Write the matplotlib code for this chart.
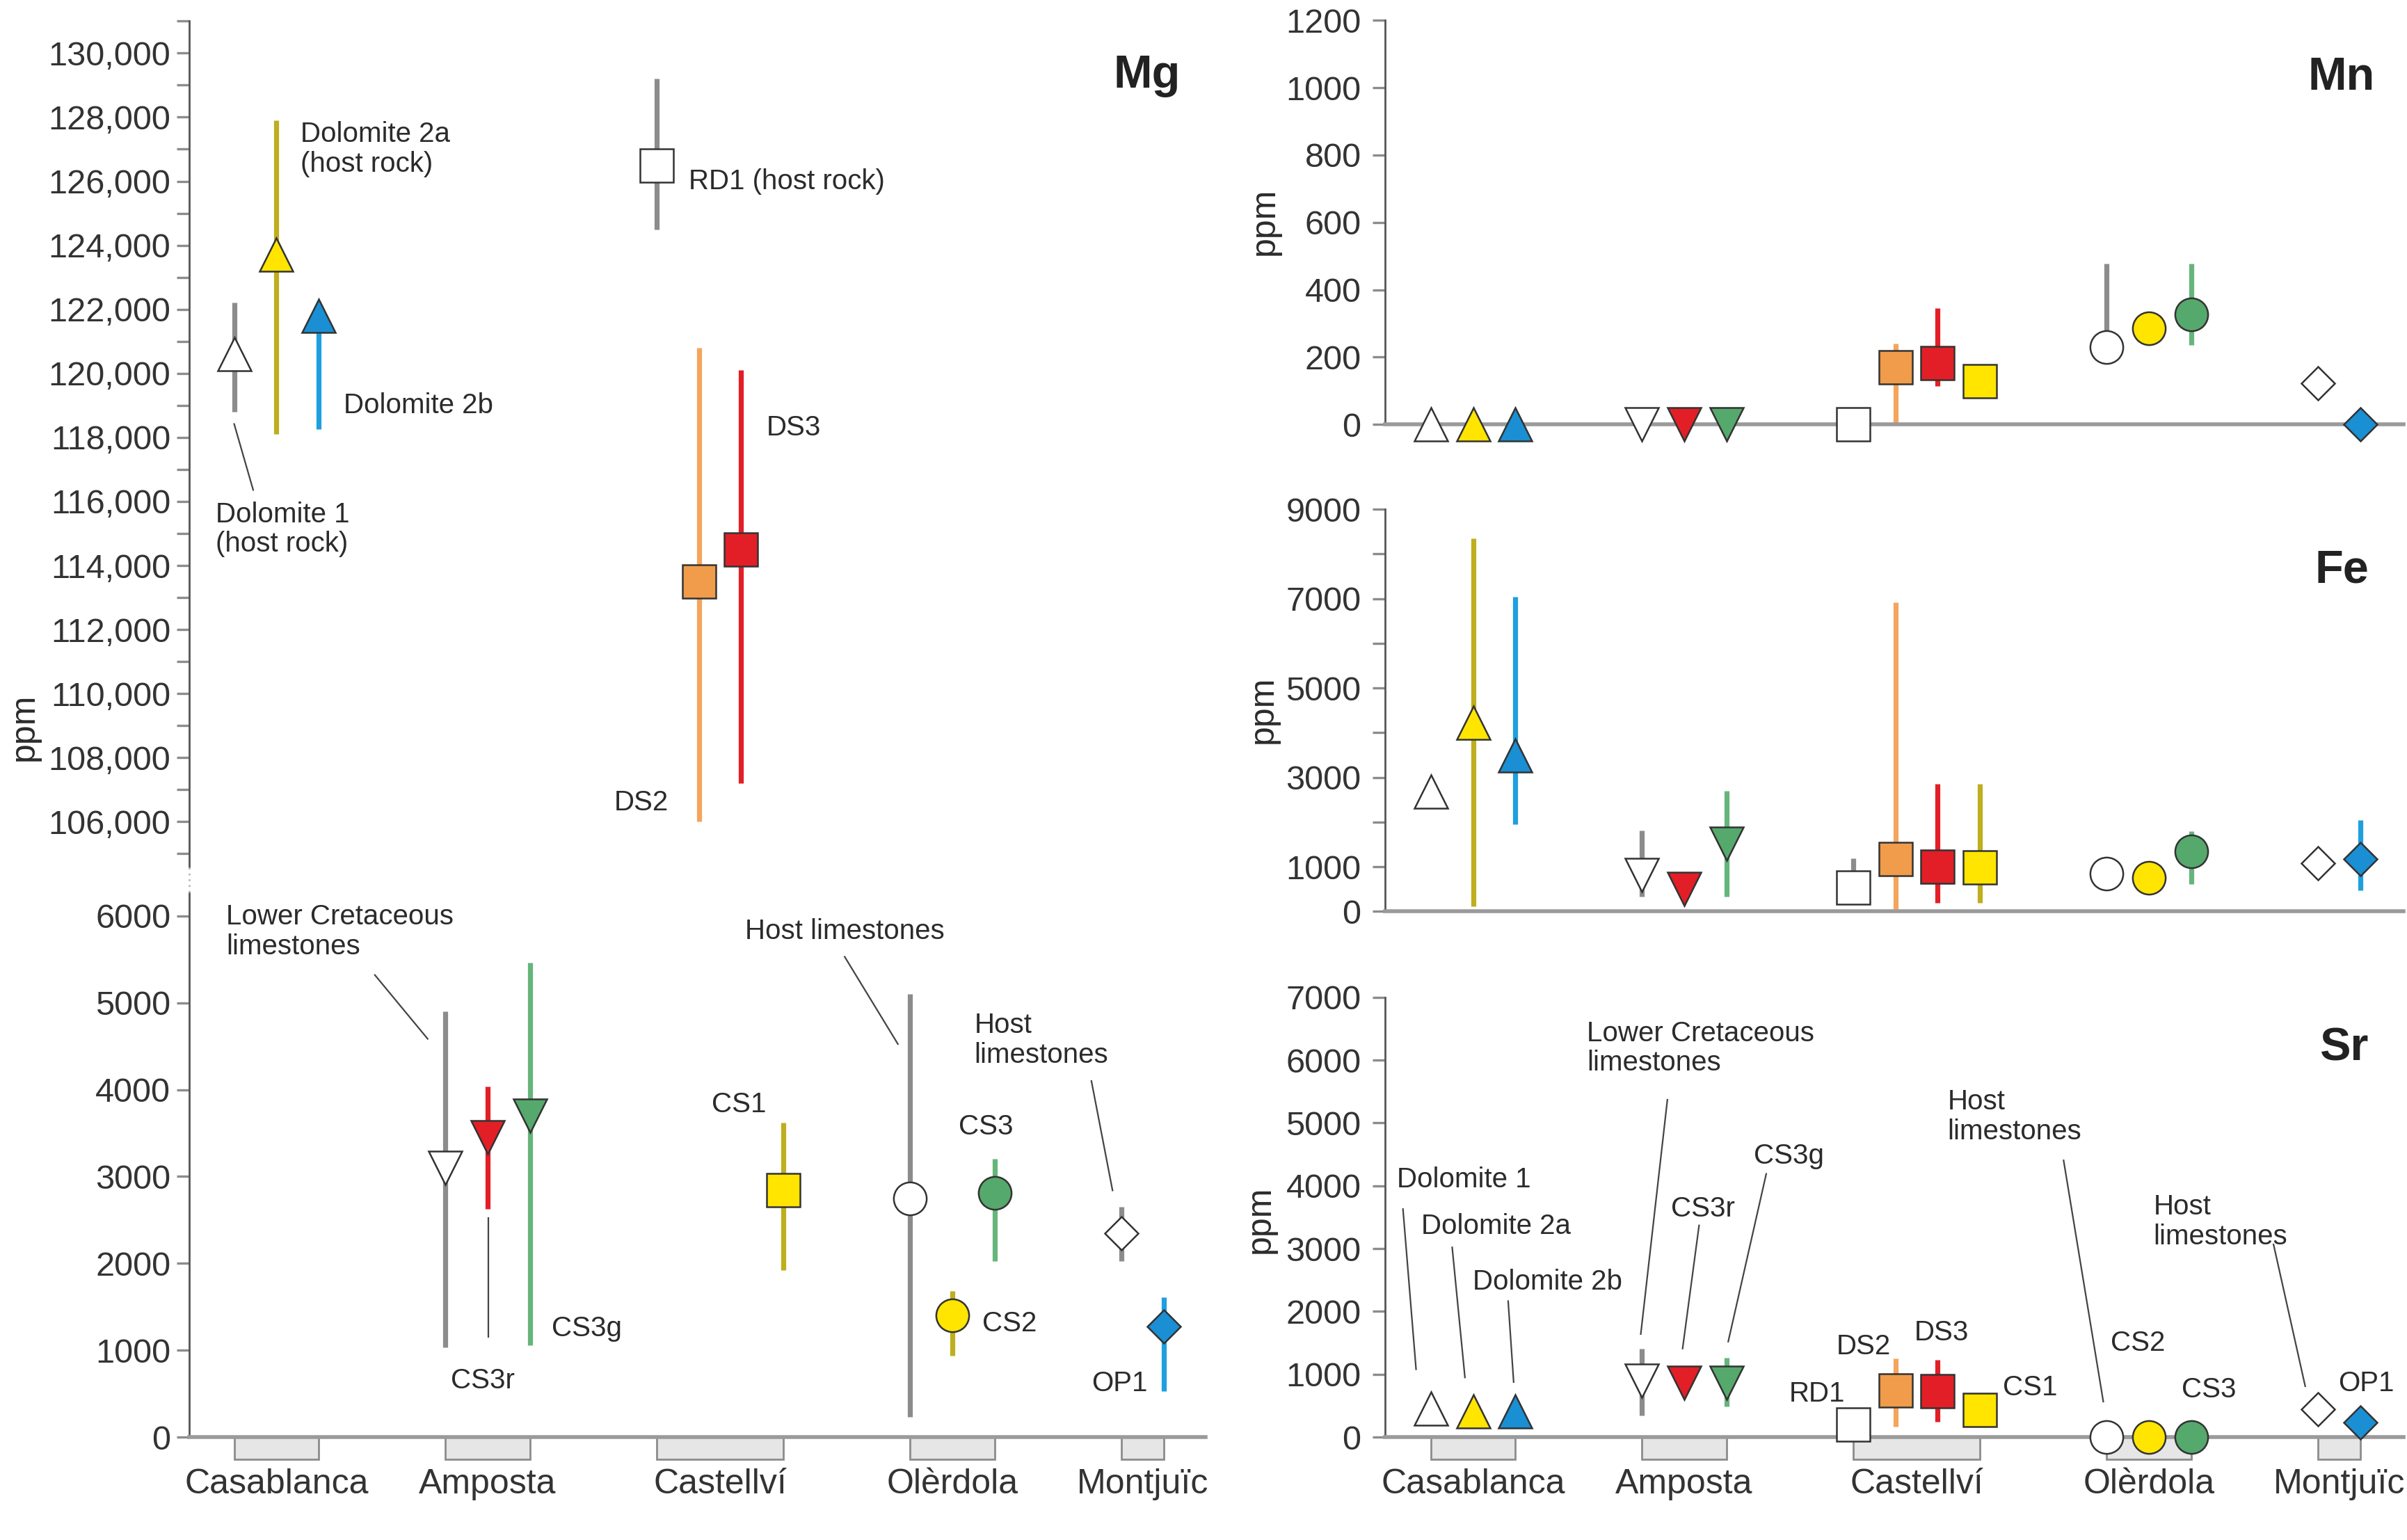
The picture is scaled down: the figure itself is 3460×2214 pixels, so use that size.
import numpy as np
import matplotlib.pyplot as plt
from matplotlib.lines import Line2D

plt.rcParams['font.family'] = ['Liberation Sans', 'DejaVu Sans']

# one x slot per sample, grouped by locality
samples = ['Dolomite 1', 'Dolomite 2a', 'Dolomite 2b',
           'Lower Cretaceous limestones', 'CS3r', 'CS3g',
           'RD1', 'DS2', 'DS3', 'CS1',
           'Host limestones (Olerdola)', 'CS2', 'CS3',
           'Host limestones (Montjuic)', 'OP1']
slots = [0, 1, 2, 5, 6, 7, 10, 11, 12, 13, 16, 17, 18, 21, 22]

sites = ['Casablanca', 'Amposta', 'Castellví', 'Olèrdola', 'Montjuïc']
site_first = [0, 5, 10, 16, 21]
site_last = [2, 7, 13, 18, 22]

nan = np.nan

# Mg (ppm) - dolomites go in the upper part of the broken axis, calcites in the lower
mg_mean = [120600, 123700, 121800, 3100, 3450, 3700, 126500, 113500, 114500, 2840, 2750, 1400, 2810, 2350, 1270]
mg_min = [118800, 118100, 118250, 1030, 2630, 1060, 124500, 106000, 107200, 1920, 230, 940, 2030, 2030, 530]
mg_max = [122200, 127900, 122000, 4900, 4040, 5460, 129200, 120800, 120100, 3620, 5100, 1680, 3200, 2650, 1610]

# Mn (ppm)
mn_mean = [0, 0, 0, 0, 0, 0, 0, 170, 183, 128, 230, 286, 326, 122, 0]
mn_min = [nan, nan, nan, nan, nan, nan, nan, 0, 113, nan, 190, nan, 236, nan, nan]
mn_max = [nan, nan, nan, nan, nan, nan, nan, 241, 345, nan, 477, nan, 477, nan, nan]

# Fe (ppm)
fe_mean = [2680, 4220, 3490, 820, 510, 1520, 530, 1170, 1000, 980, 840, 750, 1350, 1080, 1180]
fe_min = [nan, 110, 1960, 340, nan, 340, 530, 50, 190, 190, nan, nan, 620, nan, 480]
fe_max = [nan, 8350, 7040, 1810, nan, 2700, 1190, 6910, 2860, 2860, nan, nan, 1790, nan, 2050]

# Sr (ppm)
sr_mean = [450, 410, 410, 900, 870, 870, 200, 740, 730, 435, 0, 0, 0, 440, 230]
sr_min = [nan, nan, nan, 340, nan, 490, nan, 170, 245, nan, nan, nan, nan, nan, nan]
sr_max = [nan, nan, nan, 1410, nan, 1260, nan, 1250, 1230, nan, nan, nan, nan, nan, nan]

# tick values / labels
mg_hi_ticks = list(range(106000, 130001, 2000))
mg_lo_ticks = list(range(0, 6001, 1000))
mn_ticks = list(range(0, 1201, 200))
fe_ticks = list(range(0, 9001, 1000))
fe_labels = ['0', '1000', '', '3000', '', '5000', '', '7000', '', '9000']
sr_ticks = list(range(0, 7001, 1000))

# styles
YEL = '#ffe500'
BLUE = '#1a8fd3'
ORANGE = '#f09c4a'
RED = '#e21f26'
GREEN = '#55a96c'
GREYBAR = '#8c8c8c'
OLIVE = '#bfae1e'
markers = ['^', '^', '^', 'v', 'v', 'v', 's', 's', 's', 's', 'o', 'o', 'o', 'D', 'D']
fills = ['white', YEL, BLUE, 'white', RED, GREEN, 'white', ORANGE, RED, YEL,
         'white', YEL, GREEN, 'white', BLUE]
barcols = [GREYBAR, OLIVE, '#1ea0df', GREYBAR, RED, '#66b57b', GREYBAR, '#f4a55c', RED, OLIVE,
           GREYBAR, OLIVE, '#66b57b', GREYBAR, '#1ea0df']
TXT = '#2b2b2b'


def draw(ax, mean, lo, hi, vmin=-1e9, vmax=1e9):
    for i, x in enumerate(slots):
        m = mean[i]
        if not (vmin <= m <= vmax):
            continue
        if not np.isnan(lo[i]):
            ax.vlines(x, lo[i], hi[i], colors=barcols[i], lw=2.6, zorder=2)
        ms = 12.4 if markers[i] == 'D' else 17
        ax.plot(x, m, marker=markers[i], ms=ms, mfc=fills[i], mec='#333333',
                mew=0.9, ls='none', zorder=4, clip_on=False)


def style(ax, xlim, ylim, ticks, labels, baseline=True):
    ax.set_xlim(xlim)
    ax.set_ylim(ylim)
    ax.set_yticks(ticks, labels)
    ax.set_xticks([])
    for s in ['top', 'right']:
        ax.spines[s].set_visible(False)
    ax.spines['left'].set_color('#555555')
    ax.spines['left'].set_linewidth(1.0)
    if baseline:
        ax.spines['bottom'].set_color('#9a9a9a')
        ax.spines['bottom'].set_linewidth(2.0)
        ax.spines['bottom'].set_zorder(3)
    else:
        ax.spines['bottom'].set_visible(False)
    ax.tick_params(axis='y', direction='out', length=6.5, width=1.2, color='#8c8c8c',
                   labelsize=17.5, labelcolor='#333333', pad=3)
    ax.tick_params(axis='x', length=0)
    ax.patch.set_alpha(0)


def site_boxes(ax, depth):
    centers = [(a + b) / 2 for a, b in zip(site_first, site_last)]
    widths = [b - a for a, b in zip(site_first, site_last)]
    ax.bar(centers, [-depth] * len(sites), width=widths, bottom=0, color='#e6e6e6',
           edgecolor='#8c8c8c', lw=1.0, clip_on=False, zorder=1)
    ax.set_xticks(centers, sites)
    ax.tick_params(axis='x', length=0, pad=16, labelsize=18, labelcolor='#333333')


def notes(ax, items):
    for x, y, s, ha in items:
        ax.text(x, y, s, ha=ha, va='center', fontsize=14.5, color=TXT, linespacing=1.15)


def leaders(ax, items):
    for x1, y1, x2, y2 in items:
        ax.plot([x1, x2], [y1, y2], color='#444444', lw=0.8, clip_on=False, zorder=1)


def element(ax, x, y, s):
    ax.text(x, y, s, ha='right', va='center', fontsize=24, fontweight='bold', color='#222222')


fig = plt.figure(figsize=(17.3, 11.07), dpi=200)
fig.patch.set_facecolor('white')

XL = (-1.07, 23.0)
XR = (-1.08, 23.03)

# ---- left column: Mg, broken axis ----
ax_mg = fig.add_axes([0.0785, 0.4373, 0.4225, 0.5490])
ax_lo = fig.add_axes([0.0785, 0.0668, 0.4225, 0.3539])

style(ax_mg, XL, (104600, 131000), mg_hi_ticks, [f'{v:,}' for v in mg_hi_ticks], baseline=False)
ax_mg.set_yticks(list(range(105000, 131001, 1000)), minor=True)
ax_mg.tick_params(axis='y', which='minor', direction='out', length=6.5, width=1.2, color='#8c8c8c')
ax_mg.spines['left'].set_bounds(104600, 131000)
draw(ax_mg, mg_mean, mg_min, mg_max, vmin=100000)

style(ax_lo, XL, (0, 6274), mg_lo_ticks, [str(v) for v in mg_lo_ticks])
draw(ax_lo, mg_mean, mg_min, mg_max, vmax=10000)
site_boxes(ax_lo, 252)

# dotted break between the two Mg parts
p_hi = ax_mg.get_position()
p_lo = ax_lo.get_position()
fig.add_artist(Line2D([p_hi.x0, p_hi.x0], [p_lo.y1, p_hi.y0], transform=fig.transFigure,
                      color='#bbbbbb', lw=1.0, ls=(0, (1, 2))))

element(ax_mg, 22.4, 129300, 'Mg')
notes(ax_mg, [
    (1.57, 127000, 'Dolomite 2a\n(host rock)', 'left'),
    (2.59, 119000, 'Dolomite 2b', 'left'),
    (-0.43, 115130, 'Dolomite 1\n(host rock)', 'left'),
    (10.76, 126000, 'RD1 (host rock)', 'left'),
    (12.6, 118300, 'DS3', 'left'),
    (9.0, 106600, 'DS2', 'left'),
])
leaders(ax_mg, [(0.0, 118420, 0.45, 116360)])

notes(ax_lo, [
    (-0.19, 5820, 'Lower Cretaceous\nlimestones', 'left'),
    (5.89, 650, 'CS3r', 'center'),
    (7.52, 1250, 'CS3g', 'left'),
    (11.31, 3830, 'CS1', 'left'),
    (12.1, 5820, 'Host limestones', 'left'),
    (17.15, 3570, 'CS3', 'left'),
    (17.52, 4570, 'Host\nlimestones', 'left'),
    (17.7, 1310, 'CS2', 'left'),
    (20.29, 620, 'OP1', 'left'),
])
leaders(ax_lo, [
    (3.33, 5320, 4.58, 4585),
    (6.02, 2520, 6.02, 1155),
    (14.45, 5530, 15.71, 4525),
    (20.29, 4100, 20.79, 2840),
])

fig.text(0.0100, 0.5278, 'ppm', rotation=90, ha='center', va='center', fontsize=18, color=TXT)

# ---- right column: Mn, Fe, Sr ----
ax_mn = fig.add_axes([0.5755, 0.7244, 0.4231, 0.2624])
ax_fe = fig.add_axes([0.5755, 0.4081, 0.4231, 0.2612])
ax_sr = fig.add_axes([0.5755, 0.0668, 0.4231, 0.2856])

style(ax_mn, XR, (0, 1200), mn_ticks, [str(v) for v in mn_ticks])
ax_mn.tick_params(axis='y', pad=6)
draw(ax_mn, mn_mean, mn_min, mn_max)
element(ax_mn, 22.35, 1028, 'Mn')

style(ax_fe, XR, (0, 9000), fe_ticks, fe_labels)
ax_fe.tick_params(axis='y', pad=6)
draw(ax_fe, fe_mean, fe_min, fe_max)
element(ax_fe, 22.2, 7630, 'Fe')

style(ax_sr, XR, (0, 7000), sr_ticks, [str(v) for v in sr_ticks])
ax_sr.tick_params(axis='y', pad=6)
draw(ax_sr, sr_mean, sr_min, sr_max)
site_boxes(ax_sr, 350)
element(ax_sr, 22.2, 6180, 'Sr')

notes(ax_sr, [
    (-0.81, 4100, 'Dolomite 1', 'left'),
    (-0.22, 3360, 'Dolomite 2a', 'left'),
    (0.99, 2470, 'Dolomite 2b', 'left'),
    (3.70, 6190, 'Lower Cretaceous\nlimestones', 'left'),
    (5.69, 3630, 'CS3r', 'left'),
    (7.64, 4470, 'CS3g', 'left'),
    (9.6, 1440, 'DS2', 'left'),
    (11.45, 1660, 'DS3', 'left'),
    (8.48, 690, 'RD1', 'left'),
    (13.54, 785, 'CS1', 'left'),
    (12.23, 5100, 'Host\nlimestones', 'left'),
    (16.1, 1500, 'CS2', 'left'),
    (17.78, 750, 'CS3', 'left'),
    (17.11, 3430, 'Host\nlimestones', 'left'),
    (21.48, 850, 'OP1', 'left'),
])
leaders(ax_sr, [
    (-0.66, 3630, -0.35, 1080),
    (0.505, 3020, 0.807, 950),
    (1.83, 2165, 1.96, 876),
    (5.6, 5370, 4.97, 1640),
    (6.35, 3370, 5.96, 1410),
    (7.94, 4190, 7.04, 1520),
    (14.98, 4405, 15.92, 565),
    (19.95, 3067, 20.7, 810),
])

fig.text(0.5255, 0.8561, 'ppm', rotation=90, ha='center', va='center', fontsize=18, color=TXT)
fig.text(0.5249, 0.5391, 'ppm', rotation=90, ha='center', va='center', fontsize=18, color=TXT)
fig.text(0.5235, 0.2079, 'ppm', rotation=90, ha='center', va='center', fontsize=18, color=TXT)

fig.savefig('out.png', dpi=200, facecolor='white')
